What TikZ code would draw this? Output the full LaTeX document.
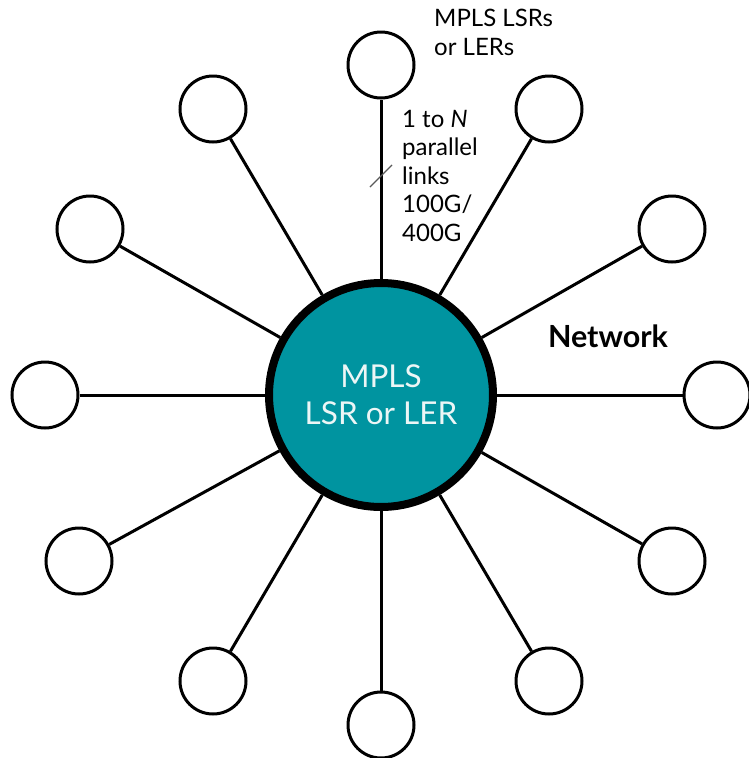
\documentclass[tikz,border=0pt]{standalone}
\usepackage{fontspec}
\setmainfont{Lato}
\definecolor{tealfill}{RGB}{0,148,160}
\definecolor{lighttext}{RGB}{236,246,246}
\begin{document}
\begin{tikzpicture}[x=1pt,y=-1pt,
  hub/.style={circle, draw=black, line width=8pt, fill=tealfill, minimum size=224pt, inner sep=0pt,
    text=lighttext, align=center, font=\fontsize{31.5}{37}\selectfont},
  leaf/.style={circle, draw=black, line width=3pt, fill=white, minimum size=66pt, inner sep=0pt},
  spoke/.style={draw=black, line width=3pt},
  lbl/.style={inner sep=0pt, align=left, font=\fontsize{24}{28.5}\selectfont}]
\useasboundingbox (0,0) rectangle (748,758);
\node[hub] (c) at (381,395) {MPLS\\LSR or LER};
\node[leaf] (o0) at (717,395) {};
\node[leaf] (o30) at (672,229) {};
\node[leaf] (o60) at (549,109) {};
\node[leaf] (o90) at (381,65) {};
\node[leaf] (o120) at (213,109) {};
\node[leaf] (o150) at (90,229) {};
\node[leaf] (o180) at (45,395) {};
\node[leaf] (o210) at (79,561) {};
\node[leaf] (o240) at (213,681) {};
\node[leaf] (o270) at (381,725) {};
\node[leaf] (o300) at (549,681) {};
\node[leaf] (o330) at (672,561) {};
\foreach \a in {0,30,...,330} {\draw[spoke] (c) -- (o\a);}
\coordinate (s1) at (370,187);
\coordinate (s2) at (392,165);
\draw[line width=1.3pt, black!65] (s1) -- (s2);
\node[lbl, anchor=base west] (t1) at (434,55) {MPLS LSRs\\or LERs};
\node[lbl, anchor=base west] (t2) at (402,241) {1 to \textit{N}\\parallel\\links\\100G/\\400G};
\node[inner sep=0pt, anchor=base, font=\bfseries\fontsize{30.5}{34}\selectfont] (net) at (608,347) {Network};
\end{tikzpicture}
\end{document}
